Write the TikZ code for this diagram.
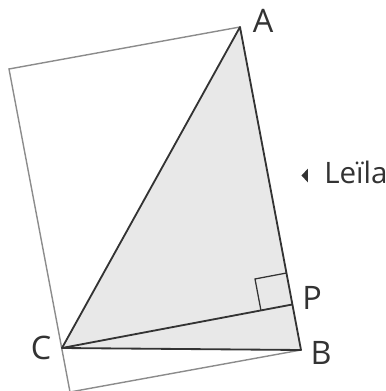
\documentclass[tikz,border=0pt]{standalone}
\usepackage{fontspec}
\setmainfont{Open Sans}
\usetikzlibrary{calc}

\definecolor{sheetgray}{gray}{0.55}
\definecolor{edgegray}{gray}{0.2}
\definecolor{trigray}{gray}{0.91}

\tikzset{
  lbl/.style={inner sep=0pt, text=edgegray, font=\fontsize{23}{23}\selectfont},
  side/.style={edgegray, line width=1.3pt, line join=round},
}

\begin{document}
\begin{tikzpicture}[x=0.025cm, y=-0.025cm]
		\clip (0, 0) rectangle (386, 391);
		% corners of the sheet and of the triangle
		\coordinate (A) at (240, 27);
		\coordinate (B) at (301, 350);
		\coordinate (C) at (62, 348);
		\coordinate (D) at (9, 69);
		\coordinate (E) at ($(D) + (B) - (A)$);
		\coordinate (P) at ($(A)!(C)!(B)$);
		\coordinate (Pa) at ($(P)!0.8cm!(A)$);
		\coordinate (Pc) at ($(P)!0.8cm!(C)$);
		\fill[trigray] (A) -- (B) -- (C) -- cycle;
		\draw[sheetgray, line width=1pt] (A) -- (D) -- (E) -- (B);
		% right angle at P
		\draw[edgegray, line width=0.9pt] (Pa) -- ($(Pa) + (Pc) - (P)$) -- (Pc);
		\draw[side] (A) -- (B) -- (C) -- cycle;
		\draw[side] (C) -- (P);
		\node[lbl] (lblA) at (263, 21) {A};
		\node[lbl] (lblB) at (321, 353) {B};
		\node[lbl] (lblC) at (41, 348) {C};
		\node[lbl] (lblP) at (312, 298) {P};
		\node[lbl, anchor=base west, font=\fontsize{21}{21}\selectfont] (leila) at (324, 183) {Leïla};
		\fill[edgegray] (308, 168.5) -- (308, 182.5) -- (301.5, 175.5) -- cycle;
	\end{tikzpicture}
\end{document}
